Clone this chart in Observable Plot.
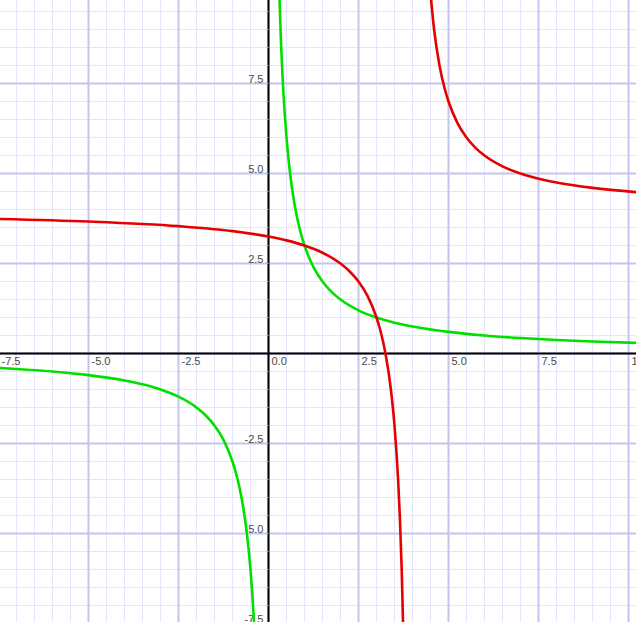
<!DOCTYPE html>
<html>
<head>
<meta charset="utf-8">
<script src="https://cdn.jsdelivr.net/npm/d3@7"></script>
<script src="https://cdn.jsdelivr.net/npm/@observablehq/plot@0.6"></script>
<style>
  body { margin: 0; background: white; }
  #chart svg { display: block; }
</style>
</head>
<body>
<div id="chart"></div>
<script>
// Visible window (data units)
const xDomain = [-7.444, 10.222];
const yDomain = [-7.472, 9.806];

// Tick labels
const xTickValues = [-7.5, -5, -2.5, 0, 2.5, 5, 7.5, 10];
const xTickLabels = ["-7.5", "-5.0", "-2.5", "0.0", "2.5", "5.0", "7.5", "10.0"];
const yTickValues = [7.5, 5, 2.5, -2.5, -5, -7.5];
const yTickLabels = ["7.5", "5.0", "2.5", "-2.5", "-5.0", "-7.5"];

// Green curve, right branch
const greenRightX = [0.3, 0.35, 0.4, 0.45, 0.5, 0.6, 0.7, 0.8, 0.9, 1, 1.25, 1.5, 1.75, 2, 2.5, 3, 3.5, 4, 5, 6, 7, 8, 9, 10.5];
const greenRightY = [10, 8.571, 7.5, 6.667, 6, 5, 4.286, 3.75, 3.333, 3, 2.4, 2, 1.714, 1.5, 1.2, 1, 0.857, 0.75, 0.6, 0.5, 0.429, 0.375, 0.333, 0.286];
// Green curve, left branch
const greenLeftX = [-7.5, -6, -5, -4, -3.5, -3, -2.5, -2, -1.75, -1.5, -1.25, -1, -0.9, -0.8, -0.7, -0.6, -0.5, -0.45, -0.4, -0.38];
const greenLeftY = [-0.4, -0.5, -0.6, -0.75, -0.857, -1, -1.2, -1.5, -1.714, -2, -2.4, -3, -3.333, -3.75, -4.286, -5, -6, -6.667, -7.5, -7.895];
// Red curve, left branch
const redLeftX = [-7.5, -5, -2.5, -1, 0, 0.5, 1, 1.5, 2, 2.25, 2.5, 2.75, 3, 3.1, 3.25, 3.4, 3.5, 3.6, 3.65, 3.7, 3.75];
const redLeftY = [3.739, 3.667, 3.538, 3.4, 3.25, 3.143, 3, 2.8, 2.5, 2.286, 2, 1.6, 1, 0.667, 0, -1, -2, -3.5, -4.571, -6, -8];
// Red curve, right branch
const redRightX = [4.5, 4.6, 4.75, 4.9, 5, 5.25, 5.5, 5.75, 6, 6.5, 7, 7.5, 8, 9, 10.5];
const redRightY = [10, 9, 8, 7.333, 7, 6.4, 6, 5.714, 5.5, 5.2, 5, 4.857, 4.75, 4.6, 4.462];

const toPts = (xs, ys) => xs.map((x, i) => ({x, y: ys[i]}));
const greenR = toPts(greenRightX, greenRightY);
const greenL = toPts(greenLeftX, greenLeftY);
const redL = toPts(redLeftX, redLeftY);
const redR = toPts(redRightX, redRightY);

const minorX = d3.range(-7.5, 10.51, 0.5);
const minorY = d3.range(-7.5, 10.01, 0.5);
const majorX = d3.range(-7.5, 10.01, 2.5);
const majorY = d3.range(-7.5, 10.01, 2.5);
const axisTicksY = minorY.filter(v => v !== 0);

const xLabels = xTickValues.map((v, i) => ({v, t: xTickLabels[i]}));
const yLabels = yTickValues.map((v, i) => ({v, t: yTickLabels[i]}));

const GREEN = "#00e000";
const RED = "#e60000";

const chart = Plot.plot({
  width: 636,
  height: 622,
  margin: 0,
  x: {domain: xDomain, axis: null},
  y: {domain: yDomain, axis: null},
  style: {fontFamily: "'Liberation Sans', Arial, sans-serif", background: "white"},
  marks: [
    Plot.ruleX(minorX, {stroke: "#e6e6fb", strokeWidth: 1}),
    Plot.ruleY(minorY, {stroke: "#e6e6fb", strokeWidth: 1}),
    Plot.ruleX(majorX, {stroke: "#c4c4f0", strokeWidth: 2}),
    Plot.ruleY(majorY, {stroke: "#c4c4f0", strokeWidth: 2}),
    Plot.ruleX([0], {stroke: "black", strokeWidth: 2}),
    Plot.ruleY([0], {stroke: "black", strokeWidth: 2}),
    Plot.ruleY(axisTicksY, {x1: -0.03, x2: 0.03, stroke: "#8a8a8a", strokeWidth: 1}),
    Plot.text(xLabels, {x: "v", y: 0, text: "t", textAnchor: "start", lineAnchor: "top", dx: 3, dy: 4, fontSize: 11, fill: "#4a4a4a"}),
    Plot.text(yLabels, {x: 0, y: "v", text: "t", textAnchor: "end", lineAnchor: "bottom", dx: -5, dy: -1, fontSize: 11, fill: "#4a4a4a"}),
    Plot.line(greenR, {x: "x", y: "y", stroke: GREEN, strokeWidth: 2.6, curve: "monotone-x", clip: true}),
    Plot.line(greenL, {x: "x", y: "y", stroke: GREEN, strokeWidth: 2.6, curve: "monotone-x", clip: true}),
    Plot.line(redL, {x: "x", y: "y", stroke: RED, strokeWidth: 2.6, curve: "monotone-x", clip: true}),
    Plot.line(redR, {x: "x", y: "y", stroke: RED, strokeWidth: 2.6, curve: "monotone-x", clip: true})
  ]
});
document.getElementById("chart").appendChild(chart);
</script>
</body>
</html>
